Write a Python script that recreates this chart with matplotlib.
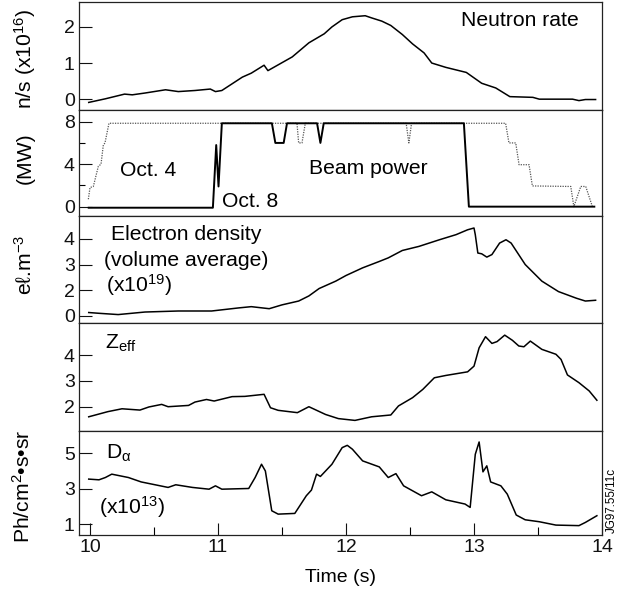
import matplotlib
matplotlib.use("Agg")
import matplotlib.pyplot as plt
from matplotlib.ticker import FixedLocator

plt.rcParams['font.family'] = ['Liberation Sans', 'DejaVu Sans']
plt.rcParams['mathtext.fontset'] = 'custom'
plt.rcParams['mathtext.rm'] = 'Liberation Sans'
plt.rcParams['mathtext.it'] = 'Liberation Sans:italic'
plt.rcParams['mathtext.bf'] = 'Liberation Sans:bold'

# ---------------- data ----------------
neutron_t = [9.99, 10.12, 10.27, 10.33, 10.43, 10.59, 10.69, 10.82, 10.94, 10.98, 11.03, 11.19, 11.26,
             11.36, 11.39, 11.58, 11.71, 11.83, 11.89, 11.97, 12.05, 12.15, 12.20, 12.28, 12.35, 12.44,
             12.52, 12.61, 12.67, 12.78, 12.94, 13.06, 13.17, 13.28, 13.46, 13.51, 13.77, 13.82, 13.87, 13.95]
neutron_v = [-0.09, 0.01, 0.14, 0.12, 0.17, 0.26, 0.21, 0.24, 0.28, 0.21, 0.24, 0.61, 0.72,
             0.94, 0.79, 1.17, 1.56, 1.81, 2.00, 2.20, 2.28, 2.31, 2.25, 2.16, 2.04, 1.79,
             1.53, 1.28, 1.00, 0.88, 0.74, 0.44, 0.31, 0.07, 0.05, 0.00, 0.00, -0.04, -0.01, -0.01]

beam_oct8_t = [9.99, 10.96, 10.986, 11.004, 11.03, 11.421, 11.448, 11.513, 11.539, 11.774, 11.80,
               11.826, 12.921, 12.96, 13.94]
beam_oct8_v = [-0.1, -0.1, 5.8, 1.9, 7.85, 7.85, 6.0, 6.0, 7.85, 7.85, 6.0,
               7.85, 7.85, 0.0, 0.0]

beam_oct4_t = [9.987, 10.0, 10.026, 10.065, 10.086, 10.104, 10.117, 10.148, 11.617, 11.630, 11.656,
               11.682, 12.470, 12.491, 12.512, 13.247, 13.273, 13.326, 13.352, 13.430, 13.456,
               13.756, 13.78, 13.834, 13.873, 13.925]
beam_oct4_v = [0.7, 1.8, 1.9, 3.8, 4.0, 5.8, 6.0, 7.85, 7.85, 6.0, 6.0,
               7.85, 7.85, 6.0, 7.85, 7.85, 6.0, 6.0, 3.95, 3.95, 1.95,
               1.9, 0.0, 1.9, 1.9, 0.0]

density_t = [9.99, 10.07, 10.22, 10.43, 10.69, 10.95, 11.16, 11.26, 11.40, 11.50, 11.63, 11.71, 11.79,
             11.92, 12.00, 12.13, 12.26, 12.33, 12.44, 12.57, 12.73, 12.86, 12.95, 13.00, 13.01, 13.03,
             13.06, 13.10, 13.14, 13.20, 13.25, 13.29, 13.40, 13.53, 13.66, 13.80, 13.87, 13.95]
density_v = [1.12, 1.09, 1.04, 1.14, 1.18, 1.18, 1.30, 1.35, 1.27, 1.42, 1.57, 1.77, 2.06,
             2.35, 2.57, 2.87, 3.12, 3.26, 3.55, 3.71, 3.97, 4.17, 4.36, 4.43, 4.17, 3.45,
             3.42, 3.29, 3.39, 3.84, 3.97, 3.84, 3.00, 2.35, 1.94, 1.68, 1.57, 1.60]

zeff_t = [9.99, 10.14, 10.25, 10.39, 10.46, 10.56, 10.61, 10.77, 10.82, 10.91, 10.97, 11.11, 11.21,
          11.36, 11.41, 11.47, 11.62, 11.71, 11.84, 11.94, 12.07, 12.20, 12.35, 12.41, 12.52, 12.60,
          12.69, 12.78, 12.95, 13.00, 13.04, 13.09, 13.14, 13.18, 13.24, 13.30, 13.35, 13.39, 13.44,
          13.53, 13.64, 13.68, 13.73, 13.82, 13.90, 13.96]
zeff_v = [1.61, 1.81, 1.92, 1.87, 1.99, 2.09, 2.00, 2.05, 2.18, 2.28, 2.22, 2.39, 2.40,
          2.48, 1.96, 1.86, 1.77, 2.00, 1.70, 1.54, 1.47, 1.61, 1.68, 2.03, 2.35, 2.67,
          3.12, 3.21, 3.35, 3.57, 4.28, 4.71, 4.45, 4.52, 4.77, 4.57, 4.35, 4.32, 4.54,
          4.22, 4.03, 3.83, 3.23, 2.93, 2.61, 2.25]

dalpha_t = [9.99, 10.07, 10.12, 10.17, 10.30, 10.40, 10.61, 10.67, 10.80, 10.93, 10.98, 11.03, 11.24,
            11.29, 11.34, 11.37, 11.42, 11.47, 11.60, 11.69, 11.73, 11.77, 11.80, 11.89, 11.97, 12.01,
            12.05, 12.13, 12.26, 12.33, 12.39, 12.45, 12.59, 12.67, 12.78, 12.93, 12.97, 13.01, 13.04,
            13.07, 13.10, 13.13, 13.21, 13.26, 13.33, 13.40, 13.51, 13.64, 13.82, 13.87, 13.96]
dalpha_v = [3.54, 3.50, 3.63, 3.82, 3.63, 3.38, 3.07, 3.22, 3.07, 2.97, 3.16, 2.97, 3.01,
            3.63, 4.38, 4.00, 1.75, 1.56, 1.60, 2.60, 2.92, 3.82, 3.69, 4.38, 5.32, 5.45,
            5.23, 4.57, 4.23, 3.63, 3.85, 3.16, 2.60, 2.82, 2.37, 2.13, 1.94, 4.94, 5.64,
            3.95, 4.29, 3.38, 3.16, 2.69, 1.51, 1.24, 1.13, 0.94, 0.91, 1.09, 1.47]

x_ticks = [10, 11, 12, 13, 14]
x_minor = [10.5, 11.5, 12.5, 13.5]
x_tick_labels = ['10', '11', '12', '13', '14']

p1_ticks, p1_labels = [0, 1, 2], ['0', '1', '2']
p2_ticks, p2_labels, p2_minor = [0, 4, 8], ['0', '4', '8'], [2, 6]
p3_ticks, p3_labels = [1, 2, 3, 4], ['0', '2', '3', '4']
p4_ticks, p4_labels = [2, 3, 4], ['2', '3', '4']
p5_ticks, p5_labels = [1, 3, 5], ['1', '3', '5']

# ---------------- layout ----------------
W, H = 627, 594
fig = plt.figure(figsize=(W / 100, H / 100), dpi=100)
left_px, right_px = 79, 602
bounds_px = [2, 110, 216, 323, 431, 535]
ylims = [(-0.3, 2.69), (-0.88, 9.1), (0.71, 4.9), (1.06, 5.24), (0.38, 6.26)]
xlim = (9.914, 14.0)

axes = []
for i in range(5):
    top, bot = bounds_px[i], bounds_px[i + 1]
    ax = fig.add_axes([left_px / W, 1 - bot / H, (right_px - left_px) / W, (bot - top) / H])
    ax.set_xlim(*xlim)
    ax.set_ylim(*ylims[i])
    for s in ax.spines.values():
        s.set_linewidth(0.9)
        s.set_color('#222222')
    ax.tick_params(axis='y', which='major', direction='in', length=9, width=0.8,
                   labelsize=14, pad=3, colors='#111111')
    ax.tick_params(axis='y', which='minor', direction='in', length=4.5, width=0.8)
    if i < 4:
        ax.set_xticks([])
    axes.append(ax)

lw = 1.1
ax1, ax2, ax3, ax4, ax5 = axes
ax1.plot(neutron_t, neutron_v, color='black', lw=lw)
ax1.set_yticks(p1_ticks, p1_labels)

ax2.plot(beam_oct4_t, beam_oct4_v, color='#555555', lw=0.9, ls=(0, (1, 1)))
ax2.plot(beam_oct8_t, beam_oct8_v, color='black', lw=lw + 0.3)
ax2.set_yticks(p2_ticks, p2_labels)
ax2.yaxis.set_minor_locator(FixedLocator(p2_minor))

ax3.plot(density_t, density_v, color='black', lw=lw)
ax3.set_yticks(p3_ticks, p3_labels)

ax4.plot(zeff_t, zeff_v, color='black', lw=lw)
ax4.set_yticks(p4_ticks, p4_labels)

ax5.plot(dalpha_t, dalpha_v, color='black', lw=lw)
ax5.set_yticks(p5_ticks, p5_labels)
ax5.set_xticks(x_ticks, x_tick_labels)
ax5.xaxis.set_minor_locator(FixedLocator(x_minor))
ax5.tick_params(axis='x', which='major', direction='in', length=9, width=0.8,
                labelsize=14, pad=3, colors='#111111')
ax5.tick_params(axis='x', which='minor', direction='in', length=6, width=0.8)


def ftext(x, y, s, **kw):
    fig.text(x / W, 1 - y / H, s, **kw)


fs = 15.2
ftext(461, 25.7, 'Neutron rate', fontsize=fs, va='baseline', ha='left')
ftext(120, 176.3, 'Oct. 4', fontsize=fs, va='baseline', ha='left')
ftext(222, 207.3, 'Oct. 8', fontsize=fs, va='baseline', ha='left')
ftext(309, 174, 'Beam power', fontsize=fs, va='baseline', ha='left')
ftext(111, 240, 'Electron density', fontsize=fs, va='baseline', ha='left')
ftext(104, 265.7, '(volume average)', fontsize=fs, va='baseline', ha='left')
ftext(105.5, 292.3, r'(x10$^{19}$)', fontsize=fs, va='baseline', ha='left')
ftext(105, 348.7, r'Z$_{\mathregular{eff}}$', fontsize=fs, va='baseline', ha='left')
ftext(106, 458.3, r'D$_{\mathregular{\alpha}}$', fontsize=fs, va='baseline', ha='left')
ftext(99, 514, r'(x10$^{13}$)', fontsize=fs, va='baseline', ha='left')

ylfs = 15.2
ftext(25, 59, r'n/s (x10$^{16}$)', fontsize=ylfs, rotation=90, va='center', ha='center')
ftext(25, 158.5, '(MW)', fontsize=ylfs, rotation=90, va='center', ha='center')
ftext(25, 265, r'eℓ.m$^{-3}$', fontsize=ylfs, rotation=90, va='center', ha='center')
ftext(22.5, 486.5, r'Ph/cm$^{2}$•s•sr', fontsize=ylfs, rotation=90, va='center', ha='center')

ftext(340.5, 578, 'Time (s)', fontsize=14, va='center', ha='center')
ftext(612, 500, 'JG97.55/11c', fontsize=8.4, rotation=90, va='center', ha='center')

fig.savefig('out.png', dpi=100)
